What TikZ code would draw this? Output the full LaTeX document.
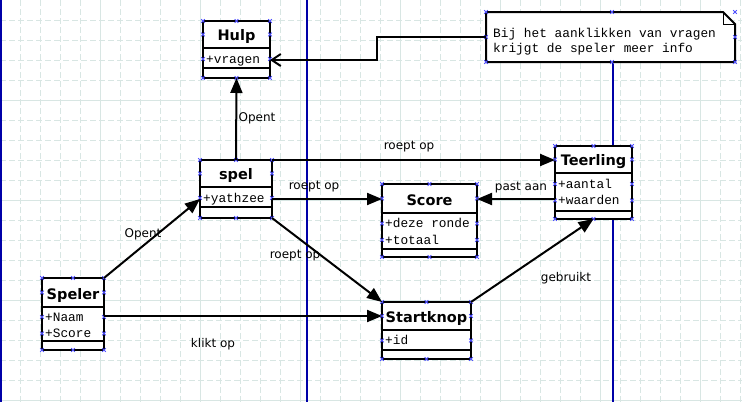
\documentclass[tikz,border=0pt]{standalone}
\usepackage{fontspec}
\setmainfont{DejaVu Sans}
\newfontfamily\monof{Liberation Mono}
\usetikzlibrary{arrows.meta,calc}

\definecolor{gridc}{RGB}{216,230,227}
\definecolor{navy}{RGB}{0,0,168}
\definecolor{handle}{RGB}{80,80,255}

\newcommand\hmk[2]{\draw[hmark, shift={({#1},{#2})}] (-1.8,-1.8) -- (1.8,1.8) (-1.8,1.8) -- (1.8,-1.8);}
\newcommand\umlclass[8]{%
  \node[boxshape, minimum width={#4-#2}, minimum height={#5-#3}, anchor=north west] (#1) at (#2,#3) {};
  \draw[boxline] (#2,#6) -- (#4,#6) (#2,#7) -- (#4,#7);
  \node[cname, anchor=base] at ({(#2+#4)/2},{#6-8}) {#8};
  \hmk{#2}{#3}\hmk{(#2+#4)/2}{#3}\hmk{#4}{#3}
  \hmk{#2}{(#3+#6)/2}\hmk{#4}{(#3+#6)/2}
  \hmk{#2}{#5}\hmk{(#2+#4)/2}{#5}\hmk{#4}{#5}
}
\newcommand\umlattr[4]{%
  \node[attr, anchor=base west] at ({#1+3},{#3}) {#4};
  \hmk{#1}{#3-4}\hmk{#2}{#3-4}
}

\begin{document}
\begin{tikzpicture}[x=1pt,y=-1pt,
  gridd/.style={gridc, line width=1pt, dash pattern=on 6pt off 3pt},
  grids/.style={gridc, line width=1pt},
  boxshape/.style={draw, fill=white, line width=2pt, inner sep=0pt, outer sep=0pt, rectangle},
  boxline/.style={line width=2pt},
  cname/.style={font=\fontsize{14.5}{16}\selectfont\bfseries, inner sep=0pt},
  attr/.style={font=\monof\fontsize{12.8}{14}\selectfont, inner sep=0pt},
  lbl/.style={font=\fontsize{12}{14}\selectfont, inner sep=0pt, anchor=base},
  conn/.style={line width=2pt},
  solidhead/.style={-{Triangle[length=15pt,width=12pt]}},
  openhead/.style={-{Straight Barb[length=9pt,width=12pt]}},
  hmark/.style={handle, line width=0.8pt},
]
\useasboundingbox (0,0) rectangle (742,402);
\fill[white] (0,0) rectangle (742,402);

% grid
\foreach \x in {20,40,...,740} \draw[gridd] (\x,0) -- (\x,402);
\foreach \y in {20,40,...,400} \draw[gridd] (0,\y) -- (742,\y);
\foreach \x in {100,200,...,700} \draw[grids] (\x,0) -- (\x,402);
\foreach \y in {100,200,300,400} \draw[grids] (0,\y) -- (742,\y);

% blue page lines
\fill[navy] (0,0) rectangle (2,402);
\draw[navy, line width=1.5pt] (307,0) -- (307,402);
\draw[navy, line width=1.5pt] (613,12) -- (613,402);

% classes
\umlclass{hulp}{203}{21}{270}{78}{48}{68}{Hulp}
\umlattr{203}{270}{63}{+vragen}

\umlclass{spel}{200}{160}{272}{218}{187}{207}{spel}
\umlattr{200}{272}{202}{+yathzee}

\umlclass{score}{382}{184}{477}{257}{213}{249}{Score}
\umlattr{382}{477}{227.5}{+deze ronde}
\umlattr{382}{477}{244}{+totaal}

\umlclass{teerling}{555}{146}{632}{219}{173}{211}{Teerling}
\umlattr{555}{632}{188}{+aantal}
\umlattr{555}{632}{204.5}{+waarden}

\umlclass{speler}{42}{278}{104}{350}{307}{341}{Speler}
\umlattr{42}{104}{321}{+Naam}
\umlattr{42}{104}{337.5}{+Score}

\umlclass{startknop}{382}{302}{471}{359}{330}{350}{Startknop}
\umlattr{382}{471}{344.5}{+id}

% note
\node[inner sep=0pt, outer sep=0pt, minimum width=249pt, minimum height=50pt, anchor=north west] (note) at (486,12) {};
\draw[boxline, fill=white] (note.north west) -- ++(237,0) -- ++(12,12) -- (note.south east) -- (note.south west) -- cycle;
\draw[line width=1pt] (723,12) -- (723,24) -- (735,24);
\node[attr, anchor=base west] at (493,37.5) {Bij het aanklikken van vragen};
\node[attr, anchor=base west] at (493,52) {krijgt de speler meer info};
\hmk{486}{12}\hmk{612}{12}\hmk{735}{12}
\hmk{486}{37}\hmk{735}{37}
\hmk{486}{62}\hmk{612}{62}\hmk{735}{62}

% helper coordinates
\coordinate (y199) at (0,199);
\coordinate (y316) at (0,316);
\coordinate (k1) at (377,37);
\coordinate (k2) at (377,60);

% connectors
\draw[conn, solidhead] (spel.north) -- (hulp.south);
\draw[conn, solidhead] (spel.north east) -- (spel.north east -| teerling.west);
\draw[conn, solidhead] (spel.east |- y199) -- (score.west |- y199);
\draw[conn, solidhead] (teerling.west |- y199) -- (score.east |- y199);
\draw[conn, solidhead] (spel.south east) -- (startknop.north west);
\draw[conn, solidhead] (speler.north east) -- (spel.west |- y199);
\draw[conn, solidhead] (speler.east |- y316) -- (startknop.west |- y316);
\draw[conn, solidhead] (startknop.north east) -- (teerling.south);
\draw[conn, openhead] (note.west |- k1) -- (k1) -- (k2) -- (hulp.east |- k2);

% labels
\node[lbl] at (257,121) {Opent};
\node[lbl] at (409,149) {roept op};
\node[lbl] at (314,189) {roept op};
\node[lbl] at (521,190) {past aan};
\node[lbl] at (143,237) {Opent};
\node[lbl] at (295,258) {roept op};
\node[lbl] at (566,281) {gebruikt};
\node[lbl] at (213,347) {klikt op};
\end{tikzpicture}
\end{document}
